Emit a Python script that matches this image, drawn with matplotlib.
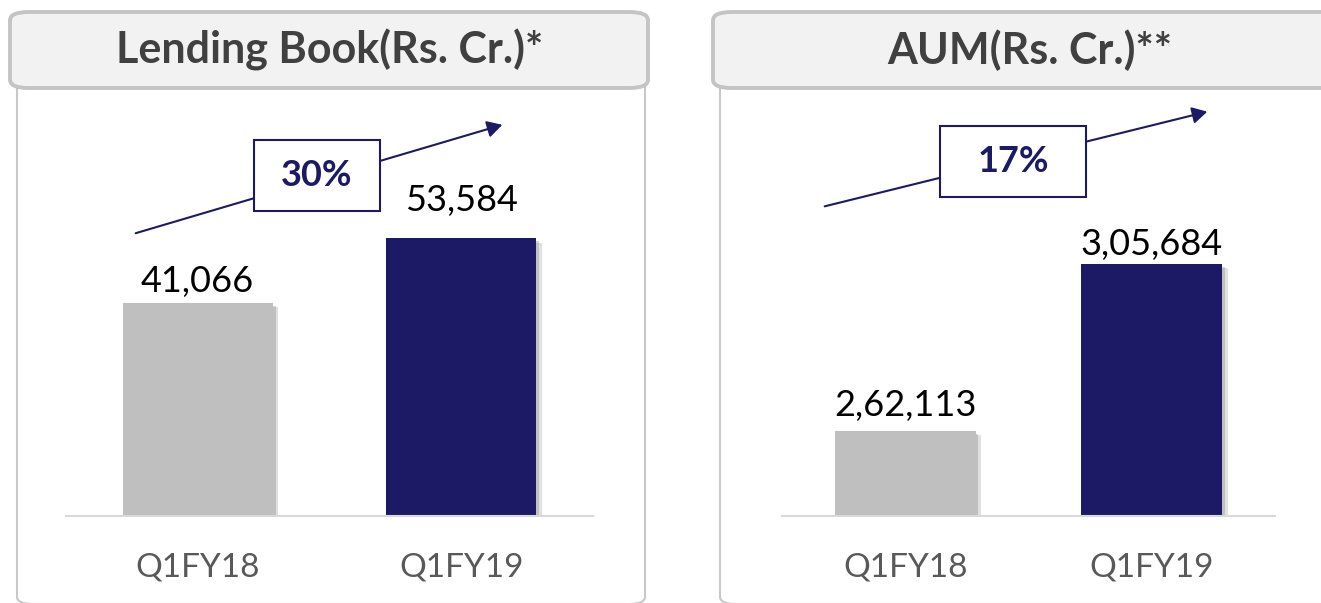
import matplotlib.pyplot as plt
import matplotlib.patheffects as pe
from matplotlib.patches import FancyBboxPatch, FancyArrowPatch, Rectangle

plt.rcParams['font.family'] = ['Lato', 'DejaVu Sans']

# data
quarters = ['Q1FY18', 'Q1FY19']
lending = [41066, 53584]
lending_labels = ['41,066', '53,584']
aum = [262113, 305684]
aum_labels = ['2,62,113', '3,05,684']

W, H = 1321, 603
NAVY = '#1c1a64'
GREY = '#bfbfbf'

fig = plt.figure(figsize=(W / 100, H / 100), dpi=100)


def fx(x):
    return x / W


def fy(y):
    return 1 - y / H


def panel(x0, x1, title, tcx):
    # outer frame of the panel (bottom runs off the picture)
    frame = FancyBboxPatch((fx(x0 + 7), fy(604)), fx(x1 - x0 - 10), fy(60) - fy(604),
                           boxstyle='round,pad=0,rounding_size=0.012',
                           transform=fig.transFigure, fc='white', ec='#c8c8c8',
                           lw=1.5, zorder=0)
    fig.add_artist(frame)
    head = FancyBboxPatch((fx(x0), fy(88)), fx(x1 - x0), fy(12) - fy(88),
                          boxstyle='round,pad=0,rounding_size=0.014',
                          transform=fig.transFigure, fc='#f2f2f2', ec='#c4c4c4',
                          lw=2.8, zorder=1)
    fig.add_artist(head)
    fig.text(fx(tcx), fy(50), title, ha='center', va='center', fontsize=31,
             fontweight='bold', color='#404040', zorder=2)


def growth(p0, p1, box, txt):
    arr = FancyArrowPatch((fx(p0[0]), fy(p0[1])), (fx(p1[0]), fy(p1[1])),
                          transform=fig.transFigure, arrowstyle='-|>,head_length=9,head_width=5',
                          color=NAVY, lw=1.5, zorder=3)
    fig.add_artist(arr)
    bx0, by0, bx1, by1 = box
    r = Rectangle((fx(bx0), fy(by1)), fx(bx1 - bx0), fy(by0) - fy(by1),
                  transform=fig.transFigure, fc='white', ec=NAVY, lw=1.5, zorder=4)
    fig.add_artist(r)
    fig.text(fx((bx0 + bx1) / 2), fy((by0 + by1) / 2), txt, ha='center', va='center',
             fontsize=26, fontweight='bold', color=NAVY, zorder=5)


def bars(ax, vals, labels, ymin, ymax, gaps):
    b = ax.bar(range(len(vals)), [v - ymin for v in vals], bottom=ymin, width=0.57,
               color=[GREY, NAVY], zorder=2)
    for p in b:
        p.set_path_effects([pe.SimplePatchShadow(offset=(4, -3), shadow_rgbFace='#999999', alpha=0.3),
                            pe.SimplePatchShadow(offset=(2, -2), shadow_rgbFace='#777777', alpha=0.3),
                            pe.Normal()])
    for i, (v, t) in enumerate(zip(vals, labels)):
        ax.annotate(t, (i, v), xytext=(0, gaps[i]), textcoords='offset pixels',
                    ha='center', va='baseline', fontsize=26, color='black')
    ax.set_xlim(-0.5, 1.5)
    ax.set_ylim(ymin, ymax)
    ax.set_xticks(range(len(quarters)))
    ax.set_xticklabels(quarters, fontsize=24, color='#595959')
    ax.tick_params(axis='x', length=0, pad=26)
    ax.set_yticks([])
    for s in ['top', 'left', 'right']:
        ax.spines[s].set_visible(False)
    ax.spines['bottom'].set_color('#d9d9d9')
    ax.spines['bottom'].set_linewidth(1.5)
    ax.patch.set_alpha(0)


panel(10, 648, 'Lending Book(Rs. Cr.)*', 330)
panel(713, 1360, 'AUM(Rs. Cr.)**', 1030)

ax1 = fig.add_axes([fx(66), fy(516), fx(593 - 66), fy(100) - fy(516)])
bars(ax1, lending, lending_labels, 0, 80300, [11, 27])
ax2 = fig.add_axes([fx(782), fy(516), fx(1275 - 782), fy(100) - fy(516)])
bars(ax2, aum, aum_labels, 240000, 348500, [15, 9])

g1 = round((lending[1] / lending[0] - 1) * 100)
g2 = round((aum[1] / aum[0] - 1) * 100)
growth((133, 234), (505, 124), (254, 140, 380, 211), f'{g1}%')
growth((822, 207), (1210, 111), (940, 126, 1086, 197), f'{g2}%')

fig.savefig('out.png', dpi=100)
